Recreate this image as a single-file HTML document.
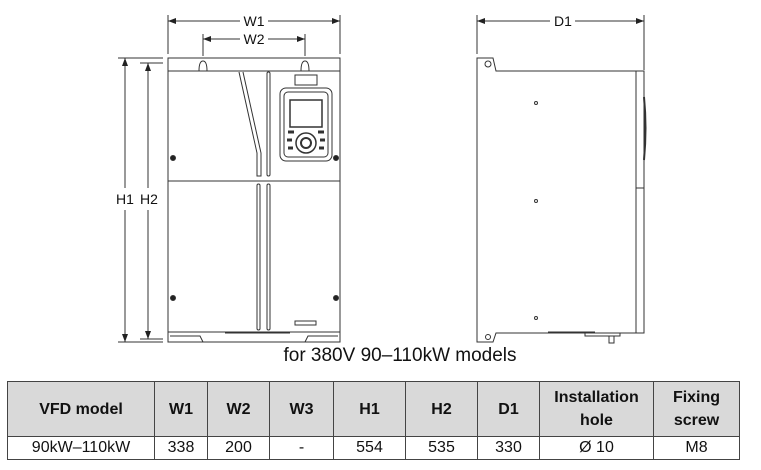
<!DOCTYPE html>
<html><head><meta charset="utf-8"><style>
body{margin:0;width:761px;height:470px;background:#fff;overflow:hidden;position:relative;font-family:"Liberation Sans",Arial,sans-serif}
svg{position:absolute;left:0;top:0}
table{position:absolute;left:7px;top:381px;border-collapse:collapse;table-layout:fixed}
td{border:1.5px solid #444;text-align:center;padding:0;color:#111}
tr.h td{background:#d9d9d9;font-weight:bold;font-size:16px;height:54px;line-height:23px}
tr.d td{font-size:16px;height:22px}
.cap{position:absolute;left:0;width:800px;top:345px;text-align:center;font-size:19px;color:#111}
</style></head><body>
<svg width="761" height="380" viewBox="0 0 761 380" fill="none" stroke="#333" stroke-width="1">
<defs><marker id="a" markerWidth="8" markerHeight="6" refX="8" refY="3" orient="auto-start-reverse"><path d="M0,0L8,3L0,6z" fill="#222" stroke="none"/></marker></defs>
<line x1="168" y1="15" x2="168" y2="54"/><line x1="340" y1="15" x2="340" y2="54"/>
<line x1="168" y1="21" x2="240" y2="21" marker-start="url(#a)"/><line x1="268" y1="21" x2="340" y2="21" marker-end="url(#a)"/>
<text x="254" y="26" font-size="14" fill="#111" stroke="none" text-anchor="middle" font-family="Liberation Sans">W1</text>
<line x1="203" y1="34" x2="203" y2="56"/><line x1="305" y1="34" x2="305" y2="56"/>
<line x1="203" y1="39" x2="240" y2="39" marker-start="url(#a)"/><line x1="268" y1="39" x2="305" y2="39" marker-end="url(#a)"/>
<text x="254" y="44" font-size="14" fill="#111" stroke="none" text-anchor="middle" font-family="Liberation Sans">W2</text>
<line x1="118" y1="58" x2="163" y2="58"/><line x1="118" y1="342" x2="163" y2="342"/>
<line x1="140" y1="63" x2="163" y2="63"/><line x1="140" y1="339" x2="163" y2="339"/>
<line x1="125" y1="58" x2="125" y2="188" marker-start="url(#a)"/><line x1="125" y1="210" x2="125" y2="342" marker-end="url(#a)"/>
<line x1="148" y1="63" x2="148" y2="188" marker-start="url(#a)"/><line x1="148" y1="210" x2="148" y2="339" marker-end="url(#a)"/>
<text x="125" y="204" font-size="14" fill="#111" stroke="none" text-anchor="middle" font-family="Liberation Sans">H1</text>
<text x="149" y="204" font-size="14" fill="#111" stroke="none" text-anchor="middle" font-family="Liberation Sans">H2</text>
<rect x="168" y="58" width="172" height="284"/>
<line x1="168" y1="71" x2="340" y2="71"/>
<path d="M199,71 q0,-10 4,-10 q4,0 4,10 M301,71 q0,-10 4,-10 q4,0 4,10"/>
<line x1="168" y1="181" x2="340" y2="181"/>
<path d="M239,72 L257,153 L257,176 L261,176 L261,153 L243,72"/>
<rect x="267" y="72" width="3" height="104" rx="1.5"/>
<rect x="257" y="184" width="3" height="146" rx="1.5"/><rect x="267" y="184" width="3" height="146" rx="1.5"/>
<line x1="168" y1="332" x2="340" y2="332"/>
<path d="M170,336 H200 L203,342 M305,342 L308,336 H338 M225,333 H290"/>
<circle cx="173" cy="158" r="2.5" fill="#222"/><circle cx="336" cy="158" r="2.5" fill="#222"/>
<circle cx="173" cy="298" r="2.5" fill="#222"/><circle cx="336" cy="298" r="2.5" fill="#222"/>
<rect x="295" y="75" width="22" height="10"/>
<rect x="280" y="88" width="52" height="73" rx="6"/>
<rect x="284" y="92" width="44" height="65" rx="4"/>
<rect x="290" y="100" width="32" height="27" stroke-width="1.5"/>
<circle cx="306" cy="143" r="10" stroke-width="1.5"/><circle cx="306" cy="143" r="5" stroke-width="2"/>
<path d="M288,132 h6 M318,132 h6 M287,140 h5 M320,140 h5 M288,148 h5 M319,148 h5" stroke-width="3"/>
<rect x="295" y="321" width="21" height="4"/>
<line x1="477" y1="15" x2="477" y2="54"/><line x1="644" y1="15" x2="644" y2="70"/>
<line x1="477" y1="21" x2="550" y2="21" marker-start="url(#a)"/><line x1="575" y1="21" x2="644" y2="21" marker-end="url(#a)"/>
<text x="563" y="26" font-size="14" fill="#111" stroke="none" text-anchor="middle" font-family="Liberation Sans">D1</text>
<path d="M477,58 H493 L496,71 H636 V333 H496 L493,342 H477 Z"/>
<path d="M636,71 H644 V333 H636 M636,188 H644"/>
<path d="M644,97 Q647,128 644,160" stroke-width="2"/>
<circle cx="488" cy="64" r="3"/><circle cx="488" cy="337" r="2.5"/>
<circle cx="536" cy="103" r="1.5"/><circle cx="536" cy="201" r="1.5"/><circle cx="536" cy="318" r="1.5"/>
<path d="M548,332 H595 M585,333 h35 v3 h-35z M609,336 v7 h5 v-7"/>
</svg>
<div class="cap">for 380V 90–110kW models</div>
<table>
<colgroup><col style="width:147px"><col style="width:53px"><col style="width:62px"><col style="width:64px"><col style="width:72px"><col style="width:72px"><col style="width:62px"><col style="width:114px"><col style="width:86px"></colgroup>
<tr class="h"><td>VFD model</td><td>W1</td><td>W2</td><td>W3</td><td>H1</td><td>H2</td><td>D1</td><td>Installation<br>hole</td><td>Fixing<br>screw</td></tr>
<tr class="d"><td>90kW–110kW</td><td>338</td><td>200</td><td>-</td><td>554</td><td>535</td><td>330</td><td>Ø 10</td><td>M8</td></tr>
</table>
</body></html>
